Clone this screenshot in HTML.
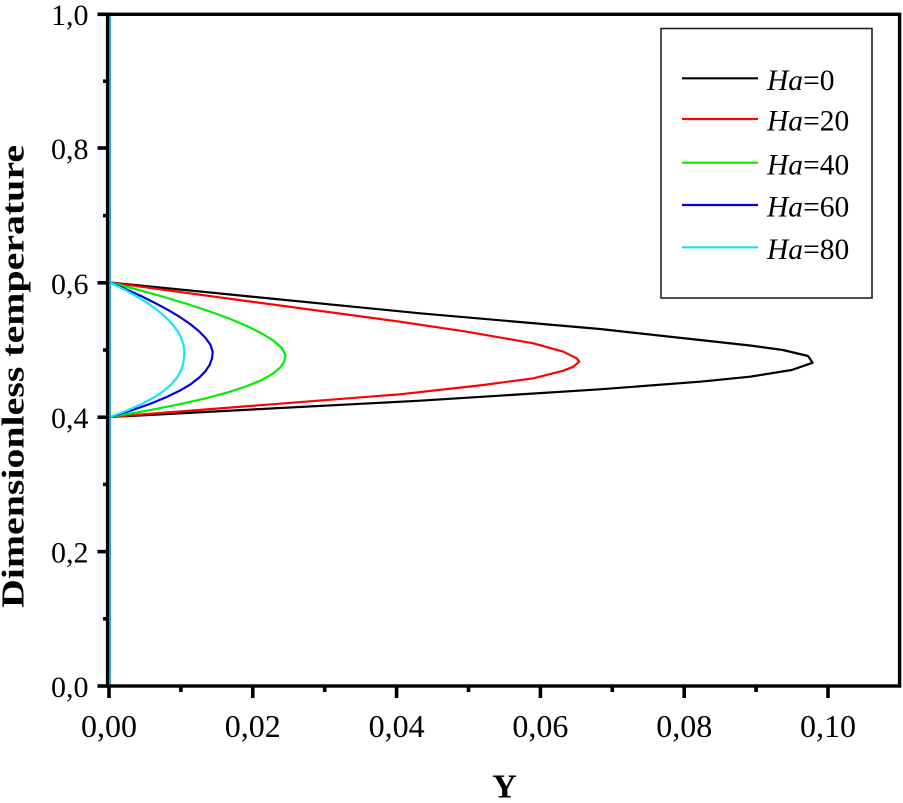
<!DOCTYPE html>
<html>
<head>
<meta charset="utf-8">
<style>
  html, body { margin: 0; padding: 0; background: #fff; }
  svg { display: block; }
</style>
</head>
<body>
<svg width="903" height="803" viewBox="0 0 903 803" xmlns="http://www.w3.org/2000/svg" font-family="'Liberation Serif', 'Times New Roman', serif">
  <rect x="0" y="0" width="903" height="803" fill="#fff"/>

  <!-- series -->
  <g fill="none" stroke-width="2.2" stroke-linejoin="round" stroke-linecap="round">
    <!-- Ha=0 black -->
    <polyline stroke="#000" points="110,282.5 250,296.5 420,313.3 600,329 700,340 750,345.5 783,350 808,356 812.7,362.7 791.7,370 750,376.7 700,381.7 600,389.3 420,400.7 250,409.6 110,417"/>
    <!-- Ha=20 red -->
    <polyline stroke="#ff0000" points="110,282.5 250,301.5 400,321.7 466.7,331.7 533.3,343.3 563.3,351.7 576.7,358.3 579.3,361.7 573.3,366.7 563.3,370.7 533.3,378.3 483.3,385 400,394.3 250,406 110,417"/>
    <!-- Ha=40 green -->
    <polyline stroke="#00ee00" points="110,282.5 138,289.75 164.1,297 188.1,304.25 209.9,311.5 229.6,318.75 246.8,326 261.4,333.25 273.2,340.5 281.6,347.75 285.5,355 284.4,361.2 280.4,367.4 273.1,373.6 262.1,379.8 247.3,386 228.5,392.2 205.4,398.4 178.1,404.6 146.3,410.8 110,417"/>
    <!-- Ha=60 blue -->
    <polyline stroke="#0000e0" points="110,282.5 126.4,289.4 141.6,296.3 155.7,303.3 168.5,310.2 180,317.1 190.1,324 198.6,330.9 205.5,337.9 210.4,344.8 212.7,351.7 212.05,358.2 209.7,364.8 205.4,371.3 199,377.8 190.4,384.4 179.3,390.9 165.8,397.4 149.8,404 131.2,410.5 110,417"/>
    <!-- Ha=80 cyan -->
    <polyline stroke="#10e8f0" points="110,282.5 124.1,289.45 136.7,296.4 147.9,303.35 157.6,310.3 165.7,317.25 172.4,324.2 177.6,331.15 181.3,338.1 183.6,345.05 184.3,352 184.1,358.5 183,365 180.6,371.5 176.8,378 171.2,384.5 163.6,391 153.8,397.5 141.8,404 127.2,410.5 110,417"/>
  </g>

  <!-- axes frame -->
  <rect x="107.6" y="14.3" width="792" height="671.7" fill="none" stroke="#000" stroke-width="3.4"/>
  <!-- cyan vertical line along x=0 -->
  <line x1="110.2" y1="16" x2="110.2" y2="684.5" stroke="#2aa8c8" stroke-width="1.6"/>

  <!-- x ticks -->
  <g stroke="#000" stroke-width="3.6">
    <line x1="109" y1="686" x2="109" y2="698"/>
    <line x1="252.8" y1="686" x2="252.8" y2="698"/>
    <line x1="396.6" y1="686" x2="396.6" y2="698"/>
    <line x1="540.4" y1="686" x2="540.4" y2="698"/>
    <line x1="684.2" y1="686" x2="684.2" y2="698"/>
    <line x1="828" y1="686" x2="828" y2="698"/>
    <line x1="180.9" y1="686" x2="180.9" y2="692"/>
    <line x1="324.7" y1="686" x2="324.7" y2="692"/>
    <line x1="468.5" y1="686" x2="468.5" y2="692"/>
    <line x1="612.3" y1="686" x2="612.3" y2="692"/>
    <line x1="756.1" y1="686" x2="756.1" y2="692"/>
  </g>
  <!-- y ticks -->
  <g stroke="#000" stroke-width="3.6">
    <line x1="97.5" y1="686" x2="108" y2="686"/>
    <line x1="97.5" y1="551.6" x2="108" y2="551.6"/>
    <line x1="97.5" y1="417.2" x2="108" y2="417.2"/>
    <line x1="97.5" y1="282.8" x2="108" y2="282.8"/>
    <line x1="97.5" y1="148" x2="108" y2="148"/>
    <line x1="97.5" y1="14.3" x2="108" y2="14.3"/>
    <line x1="103" y1="618.8" x2="108" y2="618.8"/>
    <line x1="103" y1="484.4" x2="108" y2="484.4"/>
    <line x1="103" y1="350" x2="108" y2="350"/>
    <line x1="103" y1="215.6" x2="108" y2="215.6"/>
    <line x1="103" y1="81.2" x2="108" y2="81.2"/>
  </g>

  <!-- x tick labels -->
  <g font-size="32" text-anchor="middle" fill="#000">
    <text x="109" y="737">0,00</text>
    <text x="252.8" y="737">0,02</text>
    <text x="396.6" y="737">0,04</text>
    <text x="540.4" y="737">0,06</text>
    <text x="684.2" y="737">0,08</text>
    <text x="828" y="737">0,10</text>
  </g>
  <!-- y tick labels -->
  <g font-size="30" text-anchor="end" fill="#000">
    <text x="88.5" y="697">0,0</text>
    <text x="88.5" y="562.6">0,2</text>
    <text x="88.5" y="428.2">0,4</text>
    <text x="88.5" y="293.8">0,6</text>
    <text x="88.5" y="159">0,8</text>
    <text x="88.5" y="25">1,0</text>
  </g>

  <!-- axis titles -->
  <text transform="translate(23.5,376.5) rotate(-90)" font-size="32" font-weight="bold" text-anchor="middle" textLength="463" lengthAdjust="spacingAndGlyphs">Dimensionless temperature</text>
  <text x="504.5" y="797.5" font-size="34" font-weight="bold" text-anchor="middle">Y</text>

  <!-- legend -->
  <rect x="661" y="28.5" width="211" height="269.5" fill="#fff" stroke="#222" stroke-width="1.6"/>
  <g stroke-width="2.2">
    <line x1="682" y1="78.3" x2="758" y2="78.3" stroke="#000"/>
    <line x1="682" y1="119" x2="758" y2="119" stroke="#ff0000"/>
    <line x1="682" y1="162.7" x2="758" y2="162.7" stroke="#00ee00"/>
    <line x1="682" y1="205" x2="758" y2="205" stroke="#0000e0"/>
    <line x1="682" y1="247.3" x2="758" y2="247.3" stroke="#10e8f0"/>
  </g>
  <g font-size="29.5" fill="#000">
    <text x="767" y="90"><tspan font-style="italic">Ha</tspan>=0</text>
    <text x="767" y="130.7"><tspan font-style="italic">Ha</tspan>=20</text>
    <text x="767" y="174.4"><tspan font-style="italic">Ha</tspan>=40</text>
    <text x="767" y="216.7"><tspan font-style="italic">Ha</tspan>=60</text>
    <text x="767" y="259"><tspan font-style="italic">Ha</tspan>=80</text>
  </g>
</svg>
</body>
</html>
